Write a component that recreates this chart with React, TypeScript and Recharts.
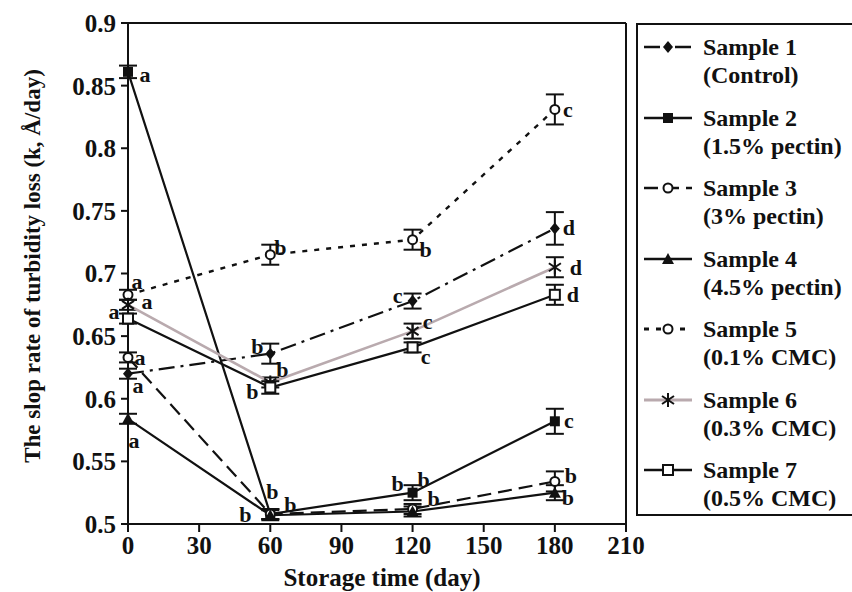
import React from "react";
import {
  LineChart,
  Line,
  XAxis,
  YAxis,
  ErrorBar,
  LabelList,
  ReferenceLine,
} from "recharts";

// storage days and axis ticks
const days = [0, 60, 120, 180];
const xTicks = [0, 30, 60, 90, 120, 150, 180, 210];
const yTicks = [0.5, 0.55, 0.6, 0.65, 0.7, 0.75, 0.8, 0.85, 0.9];

// slope rate of turbidity loss per sample, with SD and significance letters
const sample1 = [0.62, 0.636, 0.678, 0.736];
const sample1Err = [0.004, 0.008, 0.006, 0.013];
const sample1Letters = ["a", "b", "c", "d"];

const sample2 = [0.861, 0.508, 0.525, 0.582];
const sample2Err = [0.005, 0.004, 0.006, 0.01];
const sample2Letters = ["a", "b", "b", "c"];

const sample3 = [0.633, 0.508, 0.512, 0.534];
const sample3Err = [0.004, 0.004, 0.004, 0.008];
const sample3Letters = ["a", "b", "b", "b"];

const sample4 = [0.584, 0.507, 0.51, 0.525];
const sample4Err = [0.004, 0.004, 0.004, 0.006];
const sample4Letters = ["a", "b", "b", "b"];

const sample5 = [0.683, 0.715, 0.727, 0.831];
const sample5Err = [0.004, 0.008, 0.008, 0.012];
const sample5Letters = ["a", "b", "b", "c"];

const sample6 = [0.675, 0.613, 0.654, 0.705];
const sample6Err = [0.004, 0.004, 0.006, 0.008];
const sample6Letters = ["a", "b", "c", "d"];

const sample7 = [0.664, 0.609, 0.641, 0.683];
const sample7Err = [0.004, 0.005, 0.004, 0.008];
const sample7Letters = ["a", "b", "c", "d"];

const FONT = "'Liberation Serif', 'Times New Roman', serif";
const INK = "#111";

type Shape = "diamond" | "square" | "circle" | "triangle" | "star" | "openSquare";

interface SeriesDef {
  key: string;
  name: string;
  note: string;
  values: number[];
  errors: number[];
  letters: string[];
  shape: Shape;
  stroke: string;
  dash?: string;
  width: number;
  // where each letter sits relative to its point (px)
  letterOffset: [number, number][];
}

const series: SeriesDef[] = [
  {
    key: "s1", name: "Sample 1", note: "(Control)",
    values: sample1, errors: sample1Err, letters: sample1Letters,
    shape: "diamond", stroke: INK, dash: "16 6 3 6", width: 2.2,
    letterOffset: [[10, 12], [-13, -7], [-15, -6], [14, -1]],
  },
  {
    key: "s2", name: "Sample 2", note: "(1.5% pectin)",
    values: sample2, errors: sample2Err, letters: sample2Letters,
    shape: "square", stroke: INK, width: 2.2,
    letterOffset: [[17, 3], [2, -22], [-15, -9], [14, -1]],
  },
  {
    key: "s3", name: "Sample 3", note: "(3% pectin)",
    values: sample3, errors: sample3Err, letters: sample3Letters,
    shape: "circle", stroke: INK, dash: "14 7", width: 2.2,
    letterOffset: [[12, 0], [20, -9], [11, -29], [16, -6]],
  },
  {
    key: "s4", name: "Sample 4", note: "(4.5% pectin)",
    values: sample4, errors: sample4Err, letters: sample4Letters,
    shape: "triangle", stroke: INK, width: 2.2,
    letterOffset: [[6, 22], [-25, -1], [21, -13], [13, 5]],
  },
  {
    key: "s5", name: "Sample 5", note: "(0.1% CMC)",
    values: sample5, errors: sample5Err, letters: sample5Letters,
    shape: "circle", stroke: INK, dash: "5 7", width: 2.4,
    letterOffset: [[9, -13], [10, -7], [13, 10], [13, 0]],
  },
  {
    key: "s6", name: "Sample 6", note: "(0.3% CMC)",
    values: sample6, errors: sample6Err, letters: sample6Letters,
    shape: "star", stroke: "#b9aaae", width: 2.6,
    letterOffset: [[19, -3], [12, -13], [15, -10], [21, 0]],
  },
  {
    key: "s7", name: "Sample 7", note: "(0.5% CMC)",
    values: sample7, errors: sample7Err, letters: sample7Letters,
    shape: "openSquare", stroke: INK, width: 2.2,
    letterOffset: [[-14, -7], [-18, 4], [13, 9], [18, 0]],
  },
];

const rows = days.map((day, i) => {
  const row: Record<string, number> = { day };
  series.forEach((s) => {
    row[s.key] = s.values[i];
    row[`${s.key}Err`] = s.errors[i];
  });
  return row;
});

function Marker({ shape, cx, cy }: { shape: Shape; cx: number; cy: number }) {
  switch (shape) {
    case "diamond":
      return (
        <polygon
          points={`${cx},${cy - 6} ${cx + 5},${cy} ${cx},${cy + 6} ${cx - 5},${cy}`}
          fill={INK}
        />
      );
    case "square":
      return <rect x={cx - 5} y={cy - 5} width={10} height={10} fill={INK} />;
    case "circle":
      return <circle cx={cx} cy={cy} r={4.5} fill="#fff" stroke={INK} strokeWidth={2} />;
    case "triangle":
      return (
        <polygon
          points={`${cx},${cy - 6} ${cx + 6},${cy + 5} ${cx - 6},${cy + 5}`}
          fill={INK}
        />
      );
    case "star":
      return (
        <g stroke={INK} strokeWidth={2}>
          <line x1={cx} y1={cy - 7} x2={cx} y2={cy + 7} />
          <line x1={cx - 6} y1={cy - 4} x2={cx + 6} y2={cy + 4} />
          <line x1={cx - 6} y1={cy + 4} x2={cx + 6} y2={cy - 4} />
        </g>
      );
    case "openSquare":
      return (
        <rect x={cx - 5} y={cy - 5} width={10} height={10} fill="#fff" stroke={INK} strokeWidth={2} />
      );
  }
  return null;
}

function YTitle({ viewBox }: any) {
  const cx = 32;
  const cy = viewBox.y + 243;
  return (
    <text
      x={cx}
      y={cy}
      transform={`rotate(-90, ${cx}, ${cy})`}
      textAnchor="middle"
      dominantBaseline="central"
      fontFamily={FONT}
      fontWeight="bold"
      fontSize={23}
      fill={INK}
    >
      The slop rate of turbidity loss (k, Å/day)
    </text>
  );
}

function XTitle({ viewBox }: any) {
  return (
    <text
      x={viewBox.x + viewBox.width / 2 + 5}
      y={viewBox.y + 62}
      textAnchor="middle"
      fontFamily={FONT}
      fontWeight="bold"
      fontSize={25}
      fill={INK}
    >
      Storage time (day)
    </text>
  );
}

function LegendIcon({ s }: { s: SeriesDef }) {
  return (
    <svg width={50} height={20} style={{ display: "block" }}>
      <line
        x1={1}
        y1={10}
        x2={49}
        y2={10}
        stroke={s.stroke}
        strokeWidth={s.width + 0.4}
        strokeDasharray={s.dash}
      />
      <Marker shape={s.shape} cx={25} cy={10} />
    </svg>
  );
}

function LegendBox() {
  return (
    <div
      style={{
        position: "absolute",
        left: 636,
        top: 23,
        width: 220,
        height: 493,
        border: `2px solid ${INK}`,
        boxSizing: "border-box",
        fontFamily: FONT,
        fontWeight: "bold",
        fontSize: 24,
        lineHeight: "28px",
        color: INK,
        paddingTop: 8,
      }}
    >
      {series.map((s) => (
        <div key={s.key} style={{ display: "flex", height: 70.5 }}>
          <div style={{ width: 60, paddingLeft: 5, paddingTop: 4 }}>
            <LegendIcon s={s} />
          </div>
          <div>
            <div>{s.name}</div>
            <div>{s.note}</div>
          </div>
        </div>
      ))}
    </div>
  );
}

export default function App() {
  const tickStyle = { fontFamily: FONT, fontWeight: "bold", fontSize: 25, fill: INK };
  return (
    <div style={{ position: "relative", width: 852, height: 592, background: "#fff" }}>
      <style>{`body { margin: 0; }`}</style>
      <LineChart
        width={852}
        height={592}
        data={rows}
        margin={{ top: 23, right: 226, bottom: 0, left: 0 }}
      >
        <XAxis
          dataKey="day"
          type="number"
          domain={[0, 210]}
          ticks={xTicks}
          height={68}
          tickSize={8}
          tickMargin={4}
          axisLine={{ stroke: INK, strokeWidth: 2 }}
          tickLine={{ stroke: INK, strokeWidth: 2 }}
          tick={tickStyle}
          label={<XTitle />}
        />
        <YAxis
          type="number"
          domain={[0.5, 0.9]}
          ticks={yTicks}
          width={128}
          tickSize={7}
          tickMargin={5}
          allowDataOverflow
          tickFormatter={(v: number) => String(+v.toFixed(2))}
          axisLine={{ stroke: INK, strokeWidth: 2 }}
          tickLine={{ stroke: INK, strokeWidth: 2 }}
          tick={tickStyle}
          label={<YTitle />}
        />
        <ReferenceLine y={0.9} stroke={INK} strokeWidth={2} />
        <ReferenceLine x={210} stroke={INK} strokeWidth={2} />
        {series.map((s) => (
          <Line
            key={s.key}
            dataKey={s.key}
            name={s.name}
            type="linear"
            stroke={s.stroke}
            strokeWidth={s.width}
            strokeDasharray={s.dash}
            isAnimationActive={false}
            dot={(p: any) => (
              <Marker key={`${s.key}-${p.index}`} shape={s.shape} cx={p.cx} cy={p.cy} />
            )}
            activeDot={false}
          >
            <ErrorBar
              dataKey={`${s.key}Err`}
              direction="y"
              width={9}
              stroke={INK}
              strokeWidth={2}
              isAnimationActive={false}
            />
            <LabelList
              dataKey={s.key}
              content={(p: any) => {
                const [dx, dy] = s.letterOffset[p.index];
                return (
                  <text
                    x={p.x + dx}
                    y={p.y + dy}
                    textAnchor="middle"
                    dominantBaseline="central"
                    fontFamily={FONT}
                    fontWeight="bold"
                    fontSize={22}
                    fill={INK}
                  >
                    {s.letters[p.index]}
                  </text>
                );
              }}
            />
          </Line>
        ))}
      </LineChart>
      <LegendBox />
    </div>
  );
}
